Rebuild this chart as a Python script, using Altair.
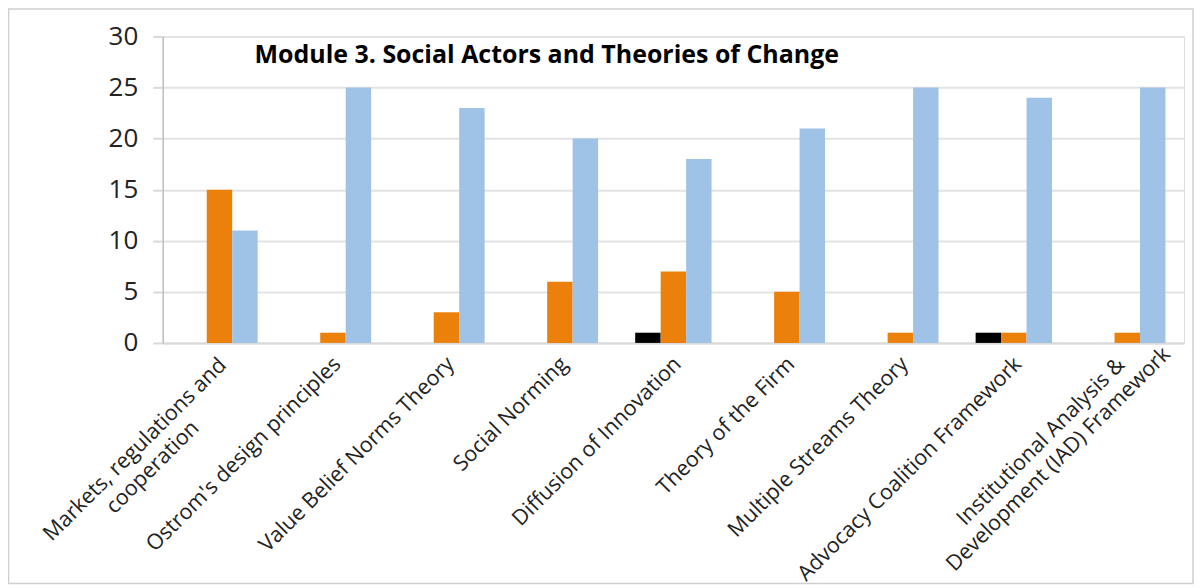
import altair as alt
import pandas as pd

categories = [
    "Markets, regulations and\ncooperation",
    "Ostrom's design principles",
    "Value Belief Norms Theory",
    "Social Norming",
    "Diffusion of Innovation",
    "Theory of the Firm",
    "Multiple Streams Theory",
    "Advocacy Coalition Framework",
    "Institutional Analysis &\nDevelopment (IAD) Framework",
]
series_names = ["Series 1", "Series 2", "Series 3"]
series1 = [0, 0, 0, 0, 1, 0, 0, 1, 0]
series2 = [15, 1, 3, 6, 7, 5, 1, 1, 1]
series3 = [11, 25, 23, 20, 18, 21, 25, 24, 25]
colors = ["#000000", "#EB800B", "#9FC3E7"]
y_ticks = [0, 5, 10, 15, 20, 25, 30]
title_text = "Module 3. Social Actors and Theories of Change"

rows = []
for name, vals in zip(series_names, [series1, series2, series3]):
    for c, v in zip(categories, vals):
        rows.append({"cat": c, "series": name, "value": v})
df = pd.DataFrame(rows)

FONT = "Open Sans"
W, H = 1023, 307

MULTI = "indexof(datum.value, '\\n') >= 0"
IAD = "indexof(datum.value, 'Institutional') == 0"

bars = alt.Chart(df).mark_bar().encode(
    x=alt.X(
        "cat:N",
        sort=categories,
        title=None,
        scale=alt.Scale(paddingInner=0.327, paddingOuter=0.1635),
        axis=alt.Axis(
            labelAngle=-45,
            labelAlign={"condition": {"test": MULTI, "value": "center"}, "value": "right"},
            labelBaseline="top",
            labelExpr="split(datum.label, '\\n')",
            labelFont=FONT,
            labelFontSize=21.5,
            labelColor="#222222",
            labelPadding={"condition": [{"test": IAD, "value": 91}, {"test": MULTI, "value": 99}], "value": 10},
            labelOffset={"condition": [{"test": IAD, "value": -94}, {"test": MULTI, "value": -92}], "value": -3},
            labelLineHeight=25,
            labelLimit=400,
            ticks=False,
            domainColor="#d9d9d9",
            domainWidth=2,
            grid=False,
        ),
    ),
    xOffset=alt.XOffset("series:N", sort=series_names,
                        scale=alt.Scale(paddingInner=0, paddingOuter=0)),
    y=alt.Y(
        "value:Q",
        title=None,
        scale=alt.Scale(domain=[0, 30], nice=False),
        axis=alt.Axis(
            values=y_ticks,
            labelFont=FONT,
            labelFontSize=26,
            labelColor="#222222",
            tickSize=10,
            tickColor="#d9d9d9",
            tickWidth=2,
            labelPadding=15,
            domainColor="#bfbfbf",
            domainWidth=1.5,
            grid=True,
            gridColor="#e3e3e3",
            gridWidth=2,
        ),
    ),
    color=alt.Color("series:N", scale=alt.Scale(domain=series_names, range=colors), legend=None),
)

title = alt.Chart(pd.DataFrame({"t": [title_text]})).mark_text(
    align="left", baseline="alphabetic", font=FONT, fontSize=25, fontWeight="bold", color="#000000"
).encode(x=alt.value(92), y=alt.value(27), text="t:N")

frame = alt.Chart(pd.DataFrame({"a": [0]})).mark_rect(
    fill="transparent", stroke="#cfcfcf", strokeWidth=1.5
).encode(x=alt.value(-154.5), x2=alt.value(1032), y=alt.value(-27.5), y2=alt.value(548))

chart = alt.layer(frame, bars, title).properties(
    width=W, height=H,
    autosize=alt.AutoSizeParams(type="none"),
    padding={"left": 155, "top": 28, "right": 10, "bottom": 242},
).configure_view(stroke=None).configure(background="white")

chart.save("out.html", embed_options={"renderer": "svg", "actions": False})
